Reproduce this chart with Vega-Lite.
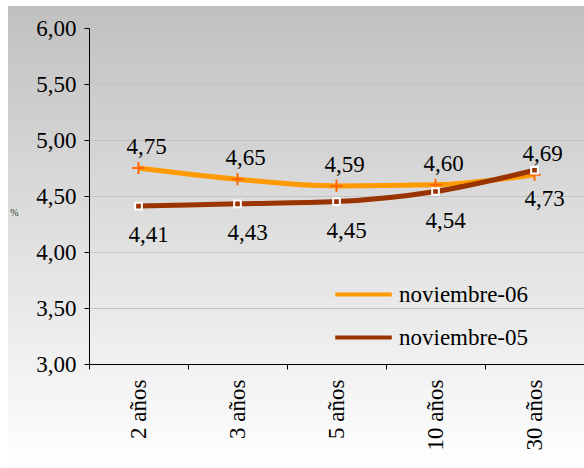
{
  "$schema": "https://vega.github.io/schema/vega-lite/v6.json",
  "width": 576,
  "height": 462,
  "autosize": "none",
  "padding": {"left": 8, "top": 6, "right": 0, "bottom": 0},
  "background": "#ffffff",
  "view": {
    "stroke": null,
    "fill": {
      "gradient": "linear", "x1": 0, "y1": 0, "x2": 0, "y2": 1,
      "stops": [{"offset": 0, "color": "#c0c0c0"}, {"offset": 1, "color": "#ffffff"}]
    }
  },
  "config": {
    "locale": {"number": {"decimal": ",", "thousands": ".", "grouping": [3], "currency": ["", " €"]}},
    "font": "Liberation Serif"
  },
  "data": {
    "values": [
      {"plazo": "2 años", "serie": "noviembre-06", "valor": 4.75},
      {"plazo": "3 años", "serie": "noviembre-06", "valor": 4.65},
      {"plazo": "5 años", "serie": "noviembre-06", "valor": 4.59},
      {"plazo": "10 años", "serie": "noviembre-06", "valor": 4.60},
      {"plazo": "30 años", "serie": "noviembre-06", "valor": 4.69},
      {"plazo": "2 años", "serie": "noviembre-05", "valor": 4.41},
      {"plazo": "3 años", "serie": "noviembre-05", "valor": 4.43},
      {"plazo": "5 años", "serie": "noviembre-05", "valor": 4.45},
      {"plazo": "10 años", "serie": "noviembre-05", "valor": 4.54},
      {"plazo": "30 años", "serie": "noviembre-05", "valor": 4.73}
    ]
  },
  "encoding": {
    "x": {
      "field": "plazo", "type": "nominal", "sort": null,
      "scale": {"type": "band", "range": [81, 576], "paddingInner": 0, "paddingOuter": 0},
      "axis": {
        "title": null, "orient": "bottom", "offset": -104,
        "labelAngle": -90, "labelFont": "Liberation Serif", "labelFontSize": 23, "labelColor": "#000000",
        "labelPadding": 10, "tickSize": 5, "tickColor": "#000000", "tickBand": "extent",
        "domainColor": "#000000", "domainWidth": 1, "grid": false
      }
    },
    "y": {
      "field": "valor", "type": "quantitative",
      "scale": {"domain": [3, 6], "range": [358, 22], "nice": false, "zero": false},
      "axis": {
        "title": "%", "titleAngle": 0, "titleFontSize": 10, "titleFont": "Liberation Serif", "titleFontWeight": "normal",
        "titleColor": "#333333", "titleX": -75, "titleY": 206, "titleAlign": "center", "titleBaseline": "middle",
        "orient": "left", "offset": -81,
        "values": [3, 3.5, 4, 4.5, 5, 5.5, 6], "format": ".2f",
        "labelFont": "Liberation Serif", "labelFontSize": 23, "labelColor": "#000000", "labelPadding": 8,
        "tickSize": 5, "tickColor": "#000000", "domainColor": "#000000",
        "grid": true, "gridColor": "#c4c4c4", "gridWidth": 1
      }
    }
  },
  "layer": [
    {
      "mark": {"type": "line", "strokeWidth": 5, "interpolate": "monotone"},
      "encoding": {
        "color": {
          "field": "serie", "type": "nominal",
          "scale": {"domain": ["noviembre-06", "noviembre-05"], "range": ["#ff9900", "#993300"]},
          "legend": {
            "title": null, "orient": "none", "legendX": 325, "legendY": 258,
            "symbolType": "stroke", "symbolStrokeWidth": 4, "symbolSize": 3200,
            "labelFont": "Liberation Serif", "labelFontSize": 23, "labelColor": "#000000",
            "labelOffset": 5, "rowPadding": -17
          }
        }
      }
    },
    {
      "transform": [{"filter": "datum.serie === 'noviembre-06'"}],
      "mark": {"type": "point", "shape": "M-1,0H1M0,-1V1", "filled": false, "stroke": "#ff6600", "strokeWidth": 2, "size": 150, "opacity": 1}
    },
    {
      "transform": [{"filter": "datum.serie === 'noviembre-05'"}],
      "mark": {"type": "point", "shape": "square", "filled": true, "fill": "#993300", "stroke": "#ffffff", "strokeWidth": 2, "size": 45, "opacity": 1}
    },
    {
      "transform": [{"filter": "datum.serie === 'noviembre-06'"}],
      "mark": {"type": "text", "font": "Liberation Serif", "fontSize": 23, "color": "#000000", "dy": -21, "dx": 8},
      "encoding": {"text": {"field": "valor", "type": "quantitative", "format": ".2f"}}
    },
    {
      "transform": [{"filter": "datum.serie === 'noviembre-05'"}],
      "mark": {"type": "text", "font": "Liberation Serif", "fontSize": 23, "color": "#000000", "dy": 29, "dx": 10},
      "encoding": {"text": {"field": "valor", "type": "quantitative", "format": ".2f"}}
    }
  ]
}
